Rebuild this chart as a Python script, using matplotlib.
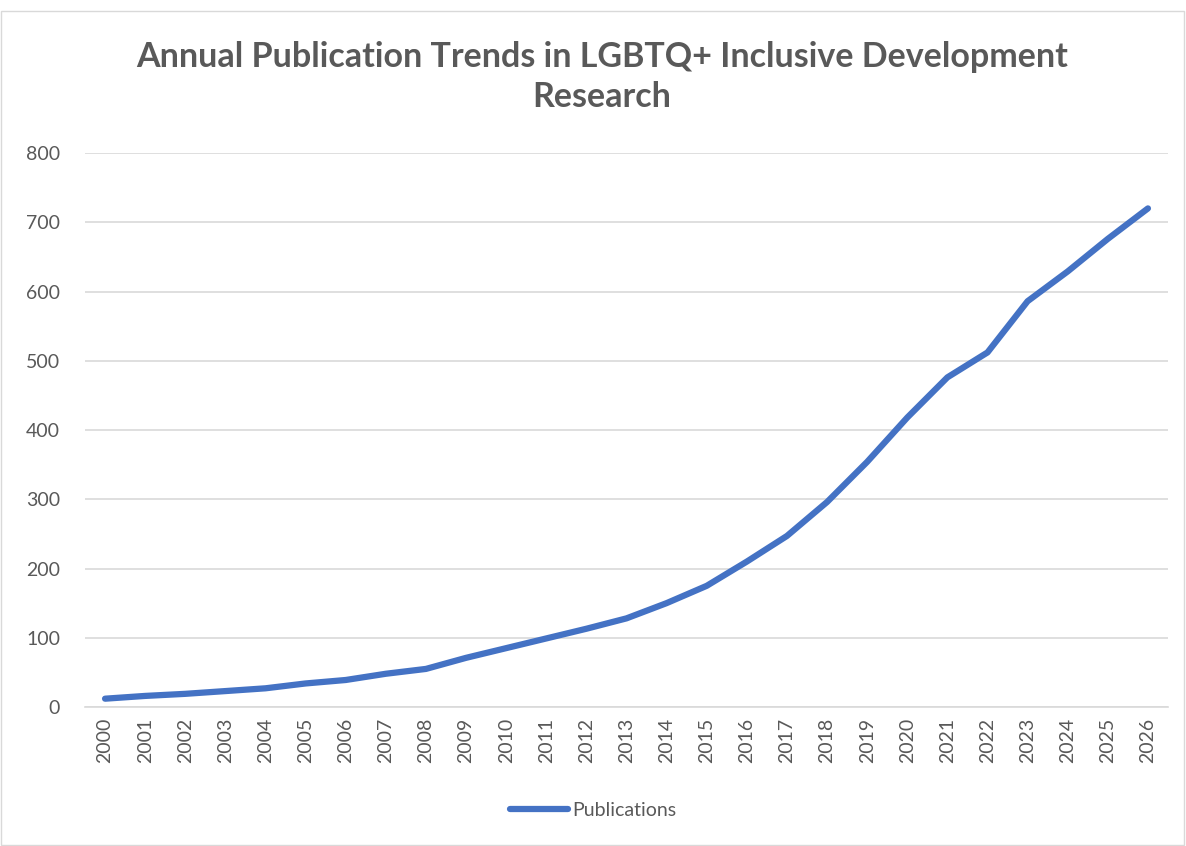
import matplotlib.pyplot as plt
from matplotlib.patches import Rectangle

# datos
years = [str(y) for y in range(2000, 2027)]
publications = [12, 16, 19, 23, 27, 34, 39, 48, 55, 71, 85, 99, 113, 128,
                150, 175, 210, 247, 296, 354, 418, 476, 512, 586, 629, 676, 720]
y_ticks = [0, 100, 200, 300, 400, 500, 600, 700, 800]

plt.rcParams['font.family'] = ['Lato', 'DejaVu Sans']
grey = '#595959'

fig = plt.figure(figsize=(11.86, 8.46), dpi=100)
ax = fig.add_axes([85 / 1186, 1 - 707 / 846, (1168 - 85) / 1186, (707 - 153) / 846])

x = list(range(len(years)))
ax.plot(x, publications, color='#4472C4', linewidth=4.5,
        solid_capstyle='round', solid_joinstyle='round', label='Publications')

ax.set_xlim(-0.5, len(years) - 0.5)
ax.set_ylim(0, 800)
ax.set_yticks(y_ticks)
ax.set_xticks(x)
ax.set_xticklabels(years, rotation=90)
ax.tick_params(axis='both', length=0, labelsize=14, colors=grey)
ax.tick_params(axis='y', pad=18)
ax.tick_params(axis='x', pad=8)
ax.grid(axis='y', color='#D9D9D9', linewidth=1.2)
ax.set_axisbelow(True)
for s in ['top', 'right', 'left']:
    ax.spines[s].set_visible(False)
ax.spines['bottom'].set_color('#D9D9D9')
ax.spines['bottom'].set_linewidth(1.2)

# titulo en dos lineas
fig.text(602 / 1186, 1 - 77 / 846,
         'Annual Publication Trends in LGBTQ+ Inclusive Development\nResearch',
         ha='center', va='center', fontsize=24.5, fontweight='bold', color=grey,
         linespacing=1.3)

fig.legend(loc='center', bbox_to_anchor=(0.5, 1 - 810 / 846), frameon=False,
           fontsize=14, labelcolor=grey, handlelength=3, handletextpad=0.2)

fig.patches.append(Rectangle((1 / 1186, 1 / 846), 1 - 3 / 1186, 1 - 12 / 846,
                             transform=fig.transFigure, fill=False,
                             edgecolor='#D9D9D9', linewidth=1))

fig.savefig('out.png', dpi=100)
